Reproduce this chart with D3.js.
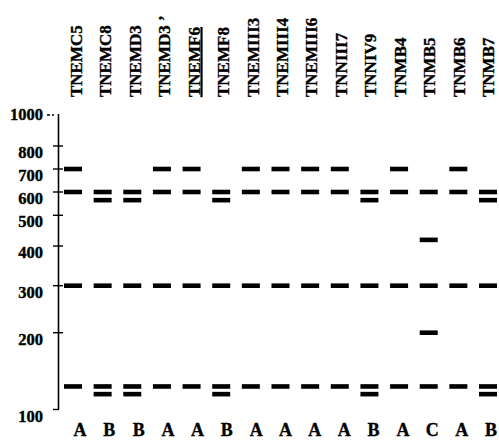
<!DOCTYPE html>
<html><head><meta charset="utf-8">
<script src="https://cdn.jsdelivr.net/npm/d3@7"></script>
<style>body{margin:0;background:#fff}svg{display:block}text{font-family:"Liberation Serif","Times New Roman",serif;font-weight:bold;fill:#000;stroke:#000;stroke-width:0.35px}</style>
</head><body><svg id="c" width="499" height="441"></svg>
<script>
// ---- data ----
const strains = ["TNEMC5","TNEMC8","TNEMD3","TNEMD3 \u2019","TNEMF6","TNEMF8","TNEMIII3","TNEMIII4","TNEMIII6","TNNIII7","TNNIV9","TNMB4","TNMB5","TNMB6","TNMB7"];
const patterns = ["A","B","B","A","A","B","A","A","A","A","B","A","C","A","B"];
const underlined = ["TNEMF6"];
const patternA = [700, 600, 300, 130];
const patternB = [600, 565, 300, 130, 120];
const patternC = [600, 420, 300, 200, 130];
const tickValues = [100, 200, 300, 400, 500, 600, 700, 800, 1000];
const tickLabels = ["100","200","300","400","500","600","700","800","1000"];

const bandsByPattern = {A: patternA, B: patternB, C: patternC};

// ---- scales ----
const svg = d3.select("#c");
const y = d3.scaleLinear()
  .domain(tickValues)
  .range([409.5, 332.7, 285.7, 246, 215.3, 192, 169, 146, 115]);
const x = d3.scalePoint().domain(d3.range(strains.length)).range([73, 488]);
const xLabel = d3.scalePoint().domain(d3.range(strains.length)).range([82, 494]);
const xLetter = d3.scalePoint().domain(d3.range(strains.length)).range([80, 491]);

// ---- axis ----
const axisX = 58.5;
svg.append("line").attr("x1", axisX).attr("x2", axisX)
  .attr("y1", y(1000) - 1).attr("y2", y(100))
  .attr("stroke", "#000").attr("stroke-width", 1.6);
svg.selectAll(".tick").data(tickValues).join("line")
  .attr("x1", d => d === 1000 ? 47 : 53)
  .attr("x2", d => d === 1000 ? 54 : (d === 100 ? 59 : 63))
  .attr("y1", d => y(d)).attr("y2", d => y(d))
  .attr("stroke", "#000").attr("stroke-width", 1.4)
  .attr("stroke-dasharray", d => d === 1000 ? "3,2" : null);
svg.selectAll(".tl").data(tickValues).join("text")
  .attr("x", 43).attr("y", d => y(d) + (d === 1000 ? 5 : 12))
  .attr("text-anchor", "end").attr("font-size", 16.5)
  .text((d, i) => tickLabels[i]);

// ---- bands ----
const bw = 18, bh = 4.6;
strains.forEach((s, i) => {
  const bands = bandsByPattern[patterns[i]];
  svg.append("g").selectAll("rect").data(bands).join("rect")
    .attr("x", x(i) - bw / 2).attr("y", d => y(d) - bh / 2)
    .attr("width", bw).attr("height", bh).attr("fill", "#000");
});

// ---- lane labels (top, rotated) ----
svg.selectAll(".lab").data(strains).join("text")
  .attr("transform", (d, i) => `translate(${xLabel(i)},97) rotate(-90)`)
  .attr("font-size", 17)
  .attr("text-decoration", d => underlined.includes(d) ? "underline" : null)
  .text(d => d);

// ---- pattern letters (bottom) ----
svg.selectAll(".pl").data(patterns).join("text")
  .attr("x", (d, i) => xLetter(i)).attr("y", 436)
  .attr("text-anchor", "middle").attr("font-size", 18)
  .text(d => d);
</script></body></html>
